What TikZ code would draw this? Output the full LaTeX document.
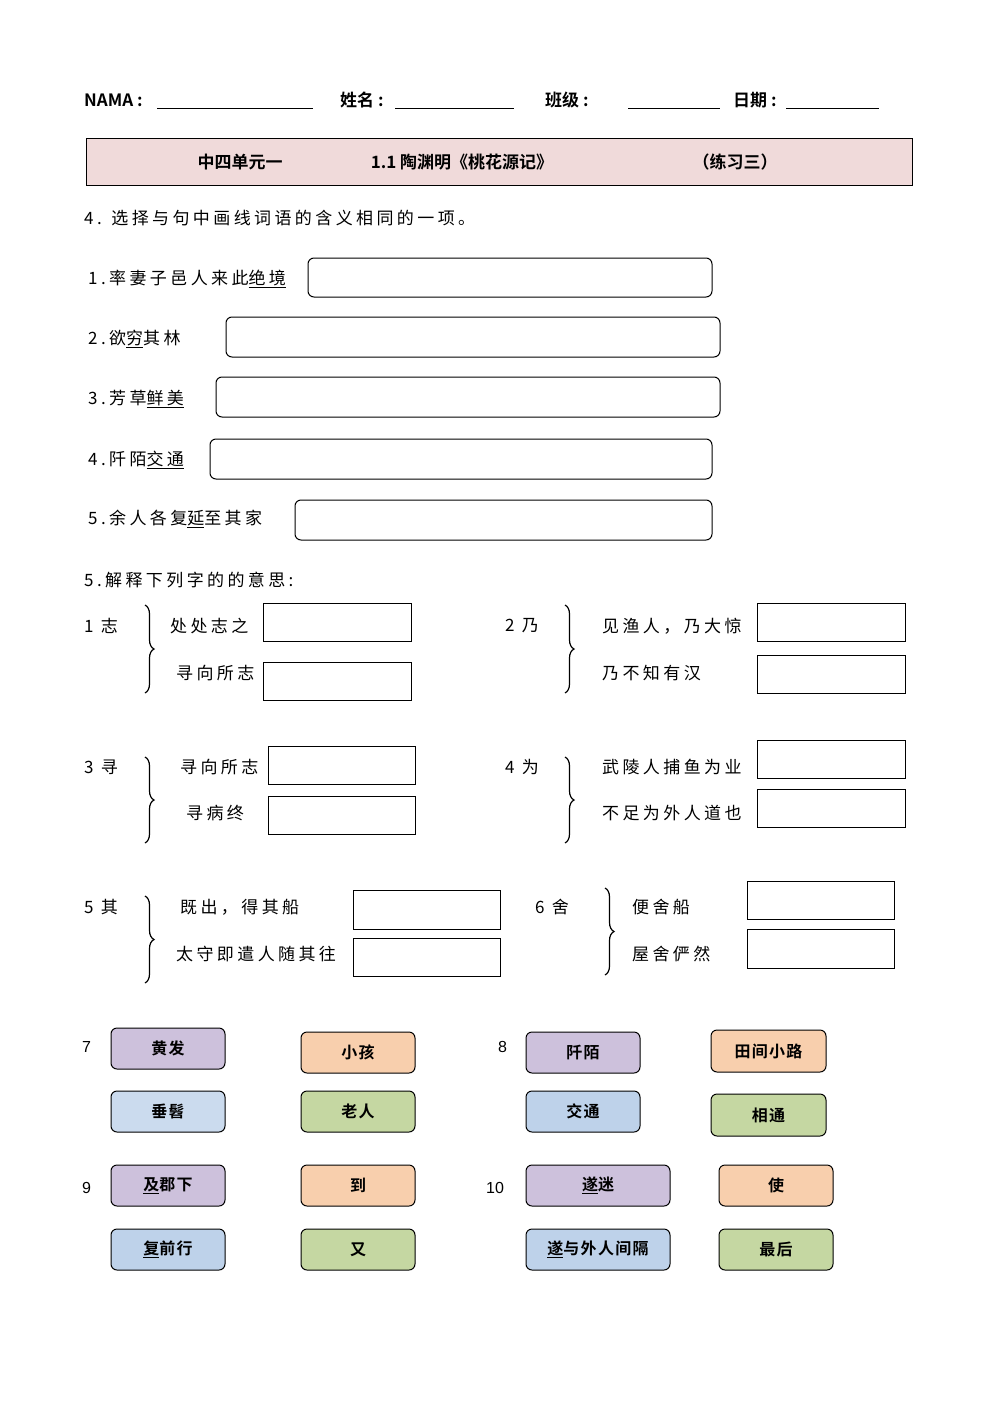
\documentclass[tikz,border=0pt]{standalone}
\usepackage{fontspec}
\setmainfont{Liberation Sans}
\newfontfamily\cjk[LetterSpace=20]{Noto Sans CJK SC}
\newfontfamily\cjkb{Noto Sans CJK SC Bold}
\newfontfamily\cjkbs[LetterSpace=8]{Noto Sans CJK SC Bold}
\usetikzlibrary{decorations.pathreplacing}
\definecolor{pinkbg}{RGB}{240,218,218}
\definecolor{cpur}{RGB}{205,193,220}
\definecolor{corg}{RGB}{248,207,173}
\definecolor{cblu}{RGB}{190,210,234}
\definecolor{cgrn}{RGB}{197,215,162}
\begin{document}
\begin{tikzpicture}[x=1pt,y=-1pt,
  txt/.style={anchor=west,inner sep=0pt,font=\fontsize{17}{20}\selectfont\cjk},
  hd/.style={anchor=west,inner sep=0pt,font=\fontsize{17}{20}\selectfont\cjkb},
  ans/.style={draw,line width=1pt,rounded corners=6pt},
  sq/.style={draw,line width=1pt},
  brc/.style={decorate,decoration={brace,amplitude=9pt},line width=1.2pt},
  chip/.style={draw,line width=1pt,rounded corners=6pt,font=\fontsize{16}{18}\selectfont\cjkbs}]
\useasboundingbox (0,0) rectangle (1000,1413);
% header
\node[hd] (h1) at (84,100) {NAMA :};
\draw[line width=0.8pt] (157,108) -- (313,108);
\node[hd] (h2) at (340,100) {姓名 :};
\draw[line width=0.8pt] (395,108) -- (514,108);
\node[hd] (h3) at (545,100) {班级 :};
\draw[line width=0.8pt] (628,108) -- (720,108);
\node[hd] (h4) at (733,100) {日期 :};
\draw[line width=0.8pt] (786,108) -- (879,108);
% title
\draw[fill=pinkbg,line width=1pt] (86,138) rectangle (912,185);
\node[font=\fontsize{17}{20}\selectfont\cjkb] (t1) at (240,162) {中四单元一};
\node[font=\fontsize{17}{20}\selectfont\cjkb] (t2) at (462,162) {1.1 陶渊明《桃花源记》};
\node[font=\fontsize{17}{20}\selectfont\cjkb] (t3) at (735,162) {（练习三）};
% section 4
\node[txt] (s4) at (84,218) {4. 选择与句中画线词语的含义相同的一项。};
\node[txt] (q1) at (88,279) {1.率妻子邑人来此\underline{绝境}};
\draw[ans] (308,258) rectangle (712,297);
\node[txt] (q2) at (88,339) {2.欲\underline{穷}其林};
\draw[ans] (226,317) rectangle (720,357);
\node[txt] (q3) at (88,399) {3.芳草\underline{鲜美}};
\draw[ans] (216,377) rectangle (720,417);
\node[txt] (q4) at (88,460) {4.阡陌\underline{交通}};
\draw[ans] (210,439) rectangle (712,479);
\node[txt] (q5) at (88,519) {5.余人各复\underline{延}至其家};
\draw[ans] (295,500) rectangle (712,540);
% section 5
\node[txt] (s5) at (84,580) {5.解释下列字的的意思:};
% group 1
\node[txt] (g1) at (84,626) {1 志};
\draw[brc] (145,605) -- (145,693);
\node[txt] (g1a) at (170,626) {处处志之};
\node[txt] (g1b) at (176,673) {寻向所志};
\draw[sq] (263,603) rectangle (411,641);
\draw[sq] (263,662) rectangle (411,700);
% group 2
\node[txt] (g2) at (505,626) {2 乃};
\draw[brc] (565,605) -- (565,693);
\node[txt] (g2a) at (602,626) {见渔人，乃大惊};
\node[txt] (g2b) at (602,673) {乃不知有汉};
\draw[sq] (757,603) rectangle (905,641);
\draw[sq] (757,655) rectangle (905,693);
% group 3
\node[txt] (g3) at (84,767) {3 寻};
\draw[brc] (145,757) -- (145,843);
\node[txt] (g3a) at (180,767) {寻向所志};
\node[txt] (g3b) at (186,813) {寻病终};
\draw[sq] (268,746) rectangle (415,784);
\draw[sq] (268,796) rectangle (415,834);
% group 4
\node[txt] (g4) at (505,767) {4 为};
\draw[brc] (565,757) -- (565,843);
\node[txt] (g4a) at (602,767) {武陵人捕鱼为业};
\node[txt] (g4b) at (602,813) {不足为外人道也};
\draw[sq] (757,740) rectangle (905,778);
\draw[sq] (757,789) rectangle (905,827);
% group 5
\node[txt] (g5) at (84,907) {5 其};
\draw[brc] (145,896) -- (145,983);
\node[txt] (g5a) at (180,907) {既出，得其船};
\node[txt] (g5b) at (176,954) {太守即遣人随其往};
\draw[sq] (353,890) rectangle (500,929);
\draw[sq] (353,938) rectangle (500,976);
% group 6
\node[txt] (g6) at (535,907) {6 舍};
\draw[brc] (605,888) -- (605,975);
\node[txt] (g6a) at (632,907) {便舍船};
\node[txt] (g6b) at (632,954) {屋舍俨然};
\draw[sq] (747,881) rectangle (894,919);
\draw[sq] (747,929) rectangle (894,968);
% chips
\node[txt,font=\fontsize{16}{18}\selectfont] (n7) at (82,1047) {7};
\node[txt,font=\fontsize{16}{18}\selectfont] (n8) at (498,1047) {8};
\node[txt,font=\fontsize{16}{18}\selectfont] (n9) at (82,1188) {9};
\node[txt,font=\fontsize{16}{18}\selectfont] (n10) at (486,1188) {10};
\newcommand{\chipbox}[6]{\draw[chip,fill=#5] (#1,#2) rectangle (#3,#4) node[midway,draw=none] {#6};}
\chipbox{111}{1028}{225}{1069}{cpur}{黄发}
\chipbox{301}{1032}{415}{1073}{corg}{小孩}
\chipbox{111}{1091}{225}{1132}{cblu!80!white}{垂髫}
\chipbox{301}{1091}{415}{1132}{cgrn}{老人}
\chipbox{526}{1032}{640}{1073}{cpur}{阡陌}
\chipbox{711}{1030}{826}{1072}{corg}{田间小路}
\chipbox{526}{1091}{640}{1132}{cblu}{交通}
\chipbox{711}{1094}{826}{1136}{cgrn}{相通}
\chipbox{111}{1165}{225}{1206}{cpur}{\underline{及}郡下}
\chipbox{301}{1165}{415}{1206}{corg}{到}
\chipbox{111}{1229}{225}{1270}{cblu}{\underline{复}前行}
\chipbox{301}{1229}{415}{1270}{cgrn}{又}
\chipbox{526}{1165}{670}{1206}{cpur}{\underline{遂}迷}
\chipbox{719}{1165}{833}{1206}{corg}{使}
\chipbox{526}{1229}{670}{1270}{cblu}{\underline{遂}与外人间隔}
\chipbox{719}{1229}{833}{1270}{cgrn}{最后}
\end{tikzpicture}
\end{document}
